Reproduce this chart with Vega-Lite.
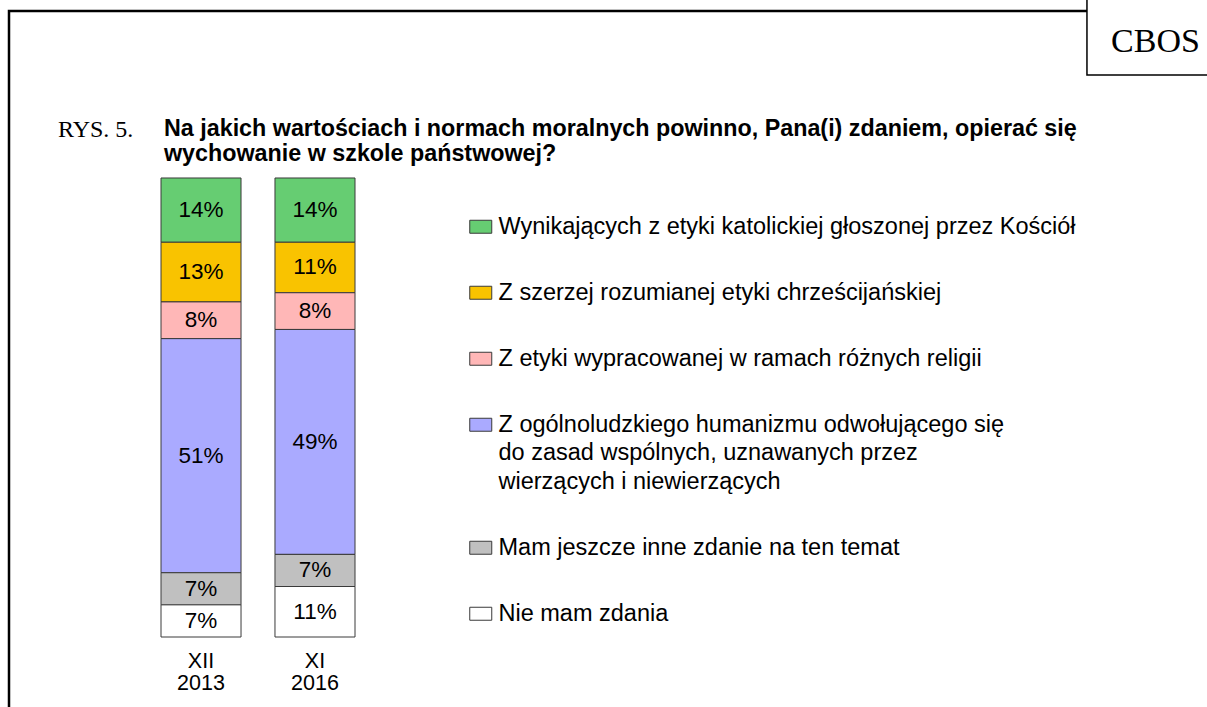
{
  "$schema": "https://vega.github.io/schema/vega-lite/v6.json",
  "width": 1198,
  "height": 696,
  "autosize": {"type": "none"},
  "padding": {"left": 9, "top": 11, "right": 0, "bottom": 0},
  "background": "white",
  "config": {
    "view": {"stroke": "black", "strokeWidth": 2.5, "strokeDash": [1198, 1894, 696]},
    "font": "Liberation Sans",
    "text": {"lineBreak": "\n"}
  },
  "title": {
    "text": ["Na jakich wartościach i normach moralnych powinno, Pana(i) zdaniem, opierać się", "wychowanie w szkole państwowej?"],
    "anchor": "start",
    "frame": "group",
    "offset": -170,
    "dx": 155,
    "font": "Liberation Sans",
    "fontWeight": "bold",
    "fontSize": 23.3,
    "lineHeight": 25,
    "color": "black"
  },
  "datasets": {
    "survey": [
      {"period": "XII\n2013", "code": 1, "answer": "Wynikających z etyki katolickiej głoszonej przez Kościół", "value": 14},
      {"period": "XII\n2013", "code": 2, "answer": "Z szerzej rozumianej etyki chrześcijańskiej", "value": 13},
      {"period": "XII\n2013", "code": 3, "answer": "Z etyki wypracowanej w ramach różnych religii", "value": 8},
      {"period": "XII\n2013", "code": 4, "answer": "Z ogólnoludzkiego humanizmu odwołującego się\ndo zasad wspólnych, uznawanych przez\nwierzących i niewierzących", "value": 51},
      {"period": "XII\n2013", "code": 5, "answer": "Mam jeszcze inne zdanie na ten temat", "value": 7},
      {"period": "XII\n2013", "code": 6, "answer": "Nie mam zdania", "value": 7},
      {"period": "XI\n2016", "code": 1, "answer": "Wynikających z etyki katolickiej głoszonej przez Kościół", "value": 14},
      {"period": "XI\n2016", "code": 2, "answer": "Z szerzej rozumianej etyki chrześcijańskiej", "value": 11},
      {"period": "XI\n2016", "code": 3, "answer": "Z etyki wypracowanej w ramach różnych religii", "value": 8},
      {"period": "XI\n2016", "code": 4, "answer": "Z ogólnoludzkiego humanizmu odwołującego się\ndo zasad wspólnych, uznawanych przez\nwierzących i niewierzących", "value": 49},
      {"period": "XI\n2016", "code": 5, "answer": "Mam jeszcze inne zdanie na ten temat", "value": 7},
      {"period": "XI\n2016", "code": 6, "answer": "Nie mam zdania", "value": 11}
    ],
    "periods": [
      {"period": "XII\n2013"},
      {"period": "XI\n2016"}
    ],
    "badge": [{"label": "CBOS"}],
    "figure": [{"label": "RYS. 5."}]
  },
  "layer": [
    {
      "encoding": {
        "x": {
          "field": "period",
          "type": "nominal",
          "sort": null,
          "scale": {"range": [152, 346], "paddingInner": 0.298, "paddingOuter": 0, "round": false},
          "axis": null
        }
      },
      "layer": [
        {
          "data": {"name": "survey"},
          "transform": [
            {"stack": "value", "groupby": ["period"], "sort": [{"field": "code", "order": "descending"}], "as": ["v0", "v1"]}
          ],
          "mark": {"type": "bar", "stroke": "#3a3a3a", "strokeWidth": 1},
          "encoding": {
            "y": {"field": "v0", "type": "quantitative", "scale": {"domain": [-15.25, 136.38], "nice": false, "zero": false}, "axis": null},
            "y2": {"field": "v1"},
            "color": {
              "field": "answer",
              "type": "nominal",
              "scale": {
                "domain": [
                  "Wynikających z etyki katolickiej głoszonej przez Kościół",
                  "Z szerzej rozumianej etyki chrześcijańskiej",
                  "Z etyki wypracowanej w ramach różnych religii",
                  "Z ogólnoludzkiego humanizmu odwołującego się\ndo zasad wspólnych, uznawanych przez\nwierzących i niewierzących",
                  "Mam jeszcze inne zdanie na ten temat",
                  "Nie mam zdania"
                ],
                "range": ["#66CD72", "#F9C300", "#FFB7B7", "#AAAAFF", "#C0C0C0", "#FFFFFF"]
              },
              "legend": {
                "orient": "none",
                "legendX": 460,
                "legendY": 204,
                "title": null,
                "labelExpr": "split(datum.label, '\\n')",
                "labelFont": "Liberation Sans",
                "labelFontSize": 23.5,
                "labelColor": "black",
                "labelLimit": 800,
                "labelOffset": 6,
                "rowPadding": 41,
                "symbolType": "M-1,-0.59H1V0.59H-1Z",
                "symbolSize": 484,
                "symbolStrokeColor": "#3a3a3a",
                "symbolStrokeWidth": 1,
                "symbolOpacity": 1,
                "encode": {"labels": {"update": {"lineHeight": {"value": 28.5}}}}
              }
            }
          }
        },
        {
          "data": {"name": "survey"},
          "transform": [
            {"stack": "value", "groupby": ["period"], "sort": [{"field": "code", "order": "descending"}], "as": ["v0", "v1"]},
            {"calculate": "(datum.v0 + datum.v1) / 2", "as": "mid"},
            {"calculate": "datum.value + '%'", "as": "pct"}
          ],
          "mark": {"type": "text", "font": "Liberation Sans", "fontSize": 22.5, "color": "black", "baseline": "middle"},
          "encoding": {
            "y": {"field": "mid", "type": "quantitative", "scale": {"domain": [-15.25, 136.38], "nice": false, "zero": false}, "axis": null},
            "text": {"field": "pct"}
          }
        },
        {
          "data": {"name": "periods"},
          "mark": {"type": "text", "font": "Liberation Sans", "fontSize": 21.5, "lineHeight": 22, "color": "black", "baseline": "middle"},
          "encoding": {
            "y": {"datum": -5.55, "type": "quantitative", "scale": {"domain": [-15.25, 136.38], "nice": false, "zero": false}, "axis": null},
            "text": {"field": "period"}
          }
        }
      ]
    },
    {
      "layer": [
        {
          "data": {"name": "badge"},
          "mark": {"type": "rect", "fill": "white", "stroke": "black", "strokeWidth": 1.5},
          "encoding": {
            "x": {"datum": 0.8998, "type": "quantitative", "scale": {"domain": [0, 1], "nice": false, "zero": false}, "axis": null},
            "x2": {"datum": 1.02},
            "y": {"datum": 0.908, "type": "quantitative", "scale": {"domain": [0, 1], "nice": false, "zero": false}, "axis": null},
            "y2": {"datum": 1.02}
          }
        },
        {
          "data": {"name": "badge"},
          "mark": {"type": "text", "font": "Liberation Serif", "fontSize": 34, "color": "black", "baseline": "alphabetic", "align": "center"},
          "encoding": {
            "x": {"datum": 0.957, "type": "quantitative"},
            "y": {"datum": 0.941, "type": "quantitative"},
            "text": {"field": "label"}
          }
        },
        {
          "data": {"name": "figure"},
          "mark": {"type": "text", "font": "Liberation Serif", "fontSize": 24, "color": "black", "baseline": "alphabetic", "align": "left"},
          "encoding": {
            "x": {"datum": 0.0409, "type": "quantitative"},
            "y": {"datum": 0.819, "type": "quantitative"},
            "text": {"field": "label"}
          }
        }
      ]
    }
  ],
  "resolve": {"scale": {"x": "independent", "y": "independent"}}
}
